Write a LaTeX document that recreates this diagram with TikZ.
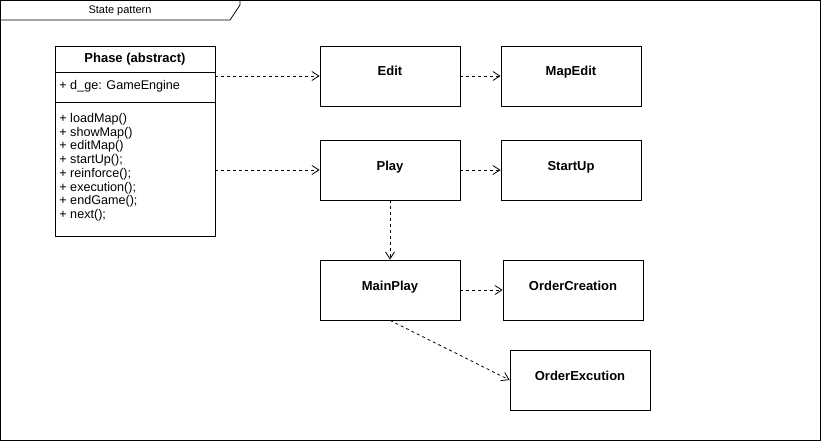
\documentclass[tikz,border=0pt]{standalone}
\usepackage{fontspec}
\setmainfont{Liberation Sans}
\usetikzlibrary{positioning, arrows.meta}

\tikzset{
  state/.style={draw, minimum width=140pt, minimum height=60pt, inner sep=0pt,
    font=\fontsize{13}{15}\selectfont\bfseries, text height=9pt, text depth=9pt},
  dep/.style={draw, dashed, dash pattern=on 3pt off 3pt, -{Straight Barb[length=7pt, width=9pt]}}
}

\begin{document}
\begin{tikzpicture}[x=1pt, y=-1pt, font=\fontsize{12.6}{13.7}\selectfont, line width=0.8pt]
    \useasboundingbox (0,0) rectangle (821,441);
    % frame with its tab
    \draw (0.5,0.5) rectangle (820,440);
    \draw (0.5,20) -- (230,20) -- (240,5) -- (240,0.5);
    \node[font=\fontsize{11}{13}\selectfont] (title) at (120,11) {State pattern};

    % abstract class
    \draw (55,46) rectangle (215,236);
    \draw (55,72) -- (215,72);
    \draw (55,102) -- (215,102);
    \node[font=\fontsize{13}{15}\selectfont\bfseries] (phase) at (135,59.5) {Phase (abstract)};
    \node[anchor=west, inner sep=0pt] (dge) at (59,86) {+ d\_ge: GameEngine};
    \node[anchor=north west, align=left, inner sep=0pt] (ops) at (59,113)
      {+ loadMap()\\+ showMap()\\+ editMap()\\+ startUp();\\+ reinforce();\\+ execution();\\+ endGame();\\+ next();};
    \coordinate (p1) at (215,76);
    \coordinate (p2) at (215,170);

    % states
    \node[state] (edit) at (390,76) {Edit};
    \node[state] (mapedit) at (571,76) {MapEdit};
    \node[state] (play) at (390,170) {Play};
    \node[state] (startup) at (571,170) {StartUp};
    \node[state] (mainplay) at (390,290) {MainPlay};
    \node[state] (creation) at (573,290) {OrderCreation};
    \node[state] (excution) at (580,380) {OrderExcution};

    \draw[dep] (p1) -- (edit);
    \draw[dep] (p2) -- (play);
    \draw[dep] (edit) -- (mapedit);
    \draw[dep] (play) -- (startup);
    \draw[dep] (play) -- (mainplay);
    \draw[dep] (mainplay) -- (creation);
    \draw[dep] (mainplay.south) -- (excution.west);

\end{tikzpicture}
\end{document}
